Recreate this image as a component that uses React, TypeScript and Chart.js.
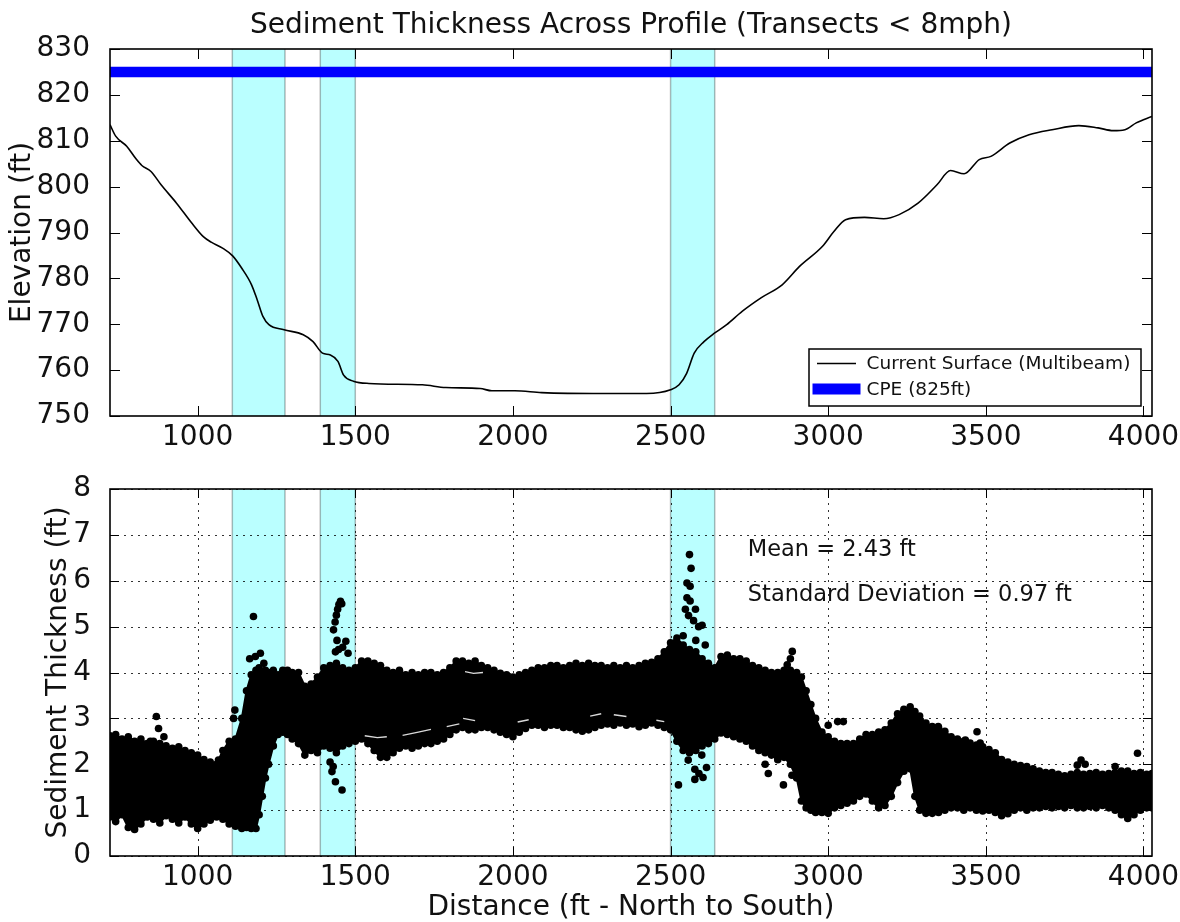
import React, { useEffect, useRef } from 'react';
import { Chart, registerables } from 'chart.js';

Chart.register(...registerables);

const FONT = "'DejaVu Sans', 'Liberation Sans', sans-serif";

// ---------- axes ----------
const X_MIN = 722;
const X_MAX = 4027;
const xTicks = [1000, 1500, 2000, 2500, 3000, 3500, 4000];
const elevTicks = [750, 760, 770, 780, 790, 800, 810, 820, 830];
const thickTicks = [0, 1, 2, 3, 4, 5, 6, 7, 8];

// ---------- shaded spans (ft) ----------
const bandStart = [1110, 1389, 2500];
const bandEnd = [1277, 1500, 2640];

// ---------- top panel: surface profile ----------
const surfaceDist = [722, 740, 775, 805, 823, 852, 884, 933, 982, 1018, 1043, 1079, 1111, 1140, 1171, 1189, 1207, 1226, 1274, 1335, 1366, 1396, 1421, 1445, 1463, 1494, 1543, 1713, 1787, 1896, 1933, 2006, 2091, 2284, 2424, 2500, 2527, 2551, 2575, 2606, 2638, 2678, 2727, 2788, 2854, 2909, 2982, 3018, 3055, 3115, 3176, 3225, 3285, 3345, 3388, 3431, 3479, 3516, 3576, 3637, 3710, 3795, 3856, 3904, 3941, 3977, 4027];
const surfaceElev = [813.5, 811.0, 808.8, 806.0, 804.6, 803.3, 800.4, 796.4, 792.0, 789.1, 787.9, 786.6, 784.9, 782.2, 778.6, 775.3, 771.7, 769.9, 768.8, 767.7, 766.2, 763.7, 763.3, 761.9, 758.9, 757.6, 757.1, 756.8, 756.2, 756.0, 755.5, 755.5, 755.1, 754.9, 754.9, 755.7, 756.8, 759.3, 763.7, 766.2, 768.0, 769.9, 772.8, 775.8, 778.6, 782.6, 787.0, 790.2, 792.8, 793.3, 793.0, 793.9, 796.4, 800.4, 803.5, 802.8, 805.9, 806.6, 809.5, 811.3, 812.4, 813.3, 812.8, 812.2, 812.4, 813.9, 815.3];
const cpeElevation = 825;
const surfaceLabel = 'Current Surface (Multibeam)';
const cpeLabel = 'CPE (825ft)';

// ---------- bottom panel: sediment thickness cloud ----------
const cloudDist = [722, 740, 760, 780, 800, 820, 840, 860, 880, 900, 920, 940, 960, 980, 1000, 1020, 1040, 1060, 1080, 1100, 1120, 1140, 1155, 1170, 1185, 1195, 1205, 1215, 1225, 1240, 1255, 1270, 1285, 1300, 1320, 1340, 1360, 1380, 1400, 1420, 1440, 1460, 1480, 1500, 1520, 1540, 1560, 1580, 1600, 1620, 1640, 1660, 1680, 1700, 1720, 1740, 1760, 1780, 1800, 1820, 1840, 1860, 1880, 1900, 1920, 1940, 1960, 1980, 2000, 2020, 2040, 2060, 2080, 2100, 2120, 2140, 2160, 2180, 2200, 2220, 2240, 2260, 2280, 2300, 2320, 2340, 2360, 2380, 2400, 2420, 2440, 2460, 2480, 2500, 2520, 2540, 2560, 2580, 2600, 2620, 2640, 2660, 2680, 2700, 2720, 2740, 2760, 2780, 2800, 2820, 2840, 2860, 2880, 2900, 2915, 2930, 2945, 2960, 2980, 3000, 3020, 3040, 3060, 3080, 3100, 3120, 3140, 3160, 3180, 3200, 3220, 3240, 3260, 3275, 3290, 3310, 3330, 3350, 3370, 3390, 3410, 3430, 3450, 3470, 3490, 3510, 3530, 3550, 3570, 3590, 3610, 3630, 3650, 3670, 3690, 3710, 3730, 3750, 3770, 3790, 3810, 3830, 3850, 3870, 3890, 3910, 3930, 3950, 3970, 3990, 4010, 4027];
const cloudLow = [0.85, 0.75, 0.9, 0.62, 0.58, 0.7, 0.85, 0.8, 0.72, 0.88, 0.8, 0.72, 0.85, 0.7, 0.6, 0.7, 0.78, 0.85, 0.8, 0.7, 0.65, 0.6, 0.62, 0.6, 0.6, 0.9, 1.3, 1.7, 2.0, 2.4, 2.65, 2.7, 2.65, 2.55, 2.45, 2.2, 2.3, 2.25, 2.4, 2.35, 2.25, 2.4, 2.45, 2.5, 2.55, 2.45, 2.3, 2.15, 2.15, 2.25, 2.35, 2.4, 2.35, 2.4, 2.45, 2.45, 2.5, 2.55, 2.65, 2.75, 2.8, 2.75, 2.75, 2.8, 2.8, 2.75, 2.7, 2.65, 2.6, 2.7, 2.78, 2.85, 2.85, 2.8, 2.85, 2.85, 2.8, 2.8, 2.75, 2.72, 2.75, 2.8, 2.85, 2.88, 2.85, 2.9, 2.85, 2.88, 2.82, 2.85, 2.9, 2.85, 2.8, 2.75, 2.5, 2.3, 2.25, 2.3, 2.4, 2.45, 2.55, 2.68, 2.65, 2.6, 2.55, 2.5, 2.4, 2.3, 2.25, 2.2, 2.15, 2.15, 2.0, 1.7, 1.2, 1.05, 1.0, 0.95, 0.95, 0.93, 1.05, 1.1, 1.15, 1.2, 1.3, 1.35, 1.2, 1.05, 1.1, 1.3, 1.6, 1.85, 1.9, 1.3, 1.0, 0.93, 0.93, 0.95, 1.0, 1.05, 1.05, 1.0, 1.05, 1.0, 0.98, 1.0, 0.95, 0.88, 0.92, 1.0, 1.05, 1.0, 1.05, 1.05, 1.08, 1.05, 1.08, 1.05, 1.1, 1.05, 1.05, 1.08, 1.05, 1.1, 1.05, 1.0, 0.9, 0.82, 0.9, 1.0, 1.05, 1.05];
const cloudHigh = [2.62, 2.65, 2.55, 2.6, 2.5, 2.55, 2.45, 2.5, 2.45, 2.4, 2.35, 2.38, 2.3, 2.25, 2.2, 2.1, 2.05, 2.0, 2.3, 2.5, 2.55, 3.0, 3.6, 3.95, 4.05, 4.1, 4.0, 4.05, 4.0, 4.05, 3.95, 4.05, 4.05, 4.0, 4.0, 3.7, 3.75, 3.9, 4.1, 4.15, 4.2, 4.1, 4.05, 4.1, 4.25, 4.25, 4.2, 4.15, 4.05, 4.0, 4.05, 3.95, 4.0, 3.95, 4.0, 4.0, 3.95, 4.0, 4.1, 4.25, 4.25, 4.2, 4.25, 4.15, 4.1, 4.05, 3.98, 3.95, 3.9, 3.95, 4.0, 4.05, 4.1, 4.1, 4.15, 4.15, 4.1, 4.15, 4.2, 4.15, 4.2, 4.15, 4.15, 4.1, 4.15, 4.1, 4.15, 4.1, 4.15, 4.2, 4.22, 4.3, 4.45, 4.65, 4.75, 4.6, 4.5, 4.45, 4.3, 4.2, 4.1, 4.35, 4.38, 4.3, 4.3, 4.25, 4.15, 4.1, 4.05, 4.0, 4.0, 4.05, 4.05, 4.0, 3.9, 3.6, 3.3, 3.0, 2.7, 2.6, 2.5, 2.45, 2.45, 2.45, 2.55, 2.65, 2.65, 2.7, 2.75, 2.9, 3.1, 3.2, 3.25, 3.15, 3.05, 2.9, 2.82, 2.8, 2.72, 2.6, 2.55, 2.5, 2.46, 2.42, 2.38, 2.32, 2.25, 2.1, 2.05, 2.0, 1.97, 1.95, 1.9, 1.85, 1.82, 1.82, 1.78, 1.75, 1.78, 1.82, 1.78, 1.8, 1.82, 1.78, 1.8, 1.82, 1.85, 1.85, 1.8, 1.82, 1.78, 1.8];
const strayDist = [850, 869, 876, 893, 1066, 1114, 1118, 1165, 1177, 1183, 1199, 1210, 1420, 1426, 1430, 1437, 1458, 1431, 1436, 1440, 1444, 1448, 1453, 1457, 1442, 1447, 1460, 1470, 1477, 1437, 2525, 2540, 2547, 2552, 2552, 2557, 2560, 2562, 2562, 2565, 2573, 2579, 2580, 2589, 2600, 2610, 2556, 2565, 2577, 2577, 2590, 2599, 2603, 2614, 2800, 2810, 2840, 2858, 2885, 2870, 2880, 2886, 3000, 3030, 3048, 3349, 3435, 3472, 3482, 3790, 3802, 3815, 3910, 3981];
const strayThick = [2.5, 3.04, 2.78, 2.6, 2.09, 3.0, 3.18, 4.3, 5.22, 4.35, 4.42, 4.2, 2.05, 1.84, 1.95, 1.62, 1.44, 4.93, 5.1, 5.25, 5.38, 5.48, 5.55, 5.5, 4.7, 4.5, 4.55, 4.68, 4.42, 4.45, 1.55, 4.8, 5.38, 5.95, 5.63, 5.24, 6.57, 5.88, 5.56, 6.27, 5.13, 5.38, 4.7, 5.0, 5.03, 4.6, 2.09, 2.3, 1.89, 1.67, 1.8, 2.2, 1.71, 1.93, 2.0, 1.8, 2.1, 1.55, 1.76, 4.17, 4.3, 4.46, 2.85, 2.93, 2.93, 2.82, 2.53, 2.71, 2.46, 1.98, 2.09, 2.0, 1.95, 2.24];
// short empty streaks seen inside the cloud (null = break between streaks)
const streakDist = [1530, 1570, 1600, 1601, 1650, 1700, 1740, 1741, 1790, 1830, 1831, 1842, 1880, 1881, 2015, 2050, 2051, 2245, 2280, 2281, 2320, 2360, 2361, 2455, 2480, 2481, 1848, 1875, 1905];
const streakThick = [2.62, 2.58, 2.6, null, 2.63, 2.7, 2.76, null, 2.82, 2.88, null, 3.0, 2.95, null, 2.92, 2.97, null, 3.05, 3.1, null, 3.08, 3.04, null, 2.96, 2.93, null, 4.02, 3.98, 4.0];
const meanLabel = 'Mean = 2.43 ft';
const sdLabel = 'Standard Deviation = 0.97 ft';
const noteDist = 2745;
const meanNoteY = 6.55;
const sdNoteY = 5.55;

const titleText = 'Sediment Thickness Across Profile (Transects < 8mph)';
const topYTitle = 'Elevation (ft)';
const botYTitle = 'Sediment Thickness (ft)';
const botXTitle = 'Distance (ft - North to South)';

Chart.defaults.font.family = FONT;

function pts(xs: number[], ys: (number | null)[]) {
  return xs.map((x, i) => ({ x, y: ys[i] }));
}

function drawBands(chart: any) {
  const { ctx, chartArea: a, scales } = chart;
  const xs = scales.x;
  ctx.save();
  for (let i = 0; i < bandStart.length; i++) {
    const x0 = xs.getPixelForValue(bandStart[i]);
    const x1 = xs.getPixelForValue(bandEnd[i]);
    ctx.fillStyle = 'rgba(0,255,255,0.27)';
    ctx.fillRect(x0, a.top, x1 - x0, a.bottom - a.top);
    ctx.strokeStyle = 'rgba(0,0,0,0.28)';
    ctx.lineWidth = 1.5;
    ctx.beginPath();
    ctx.moveTo(x0, a.top);
    ctx.lineTo(x0, a.bottom);
    ctx.moveTo(x1, a.top);
    ctx.lineTo(x1, a.bottom);
    ctx.stroke();
  }
  ctx.restore();
}

function drawFrame(chart: any, yVals: number[], len: number) {
  const { ctx, chartArea: a, scales } = chart;
  const xs = scales.x;
  const ys = scales.y;
  ctx.save();
  ctx.setLineDash([]);
  ctx.strokeStyle = '#000';
  ctx.lineWidth = 1;
  ctx.beginPath();
  for (const v of xTicks) {
    const p = Math.round(xs.getPixelForValue(v)) + 0.5;
    ctx.moveTo(p, a.bottom);
    ctx.lineTo(p, a.bottom - len);
    ctx.moveTo(p, a.top);
    ctx.lineTo(p, a.top + len);
  }
  for (const v of yVals) {
    const p = Math.round(ys.getPixelForValue(v)) + 0.5;
    ctx.moveTo(a.left, p);
    ctx.lineTo(a.left + len, p);
    ctx.moveTo(a.right, p);
    ctx.lineTo(a.right - len, p);
  }
  ctx.stroke();
  ctx.lineWidth = 1.6;
  ctx.strokeRect(a.left, a.top, a.right - a.left, a.bottom - a.top);
  ctx.restore();
}

function rotatedText(ctx: any, text: string, x: number, y: number, size: number) {
  ctx.save();
  ctx.translate(x, y);
  ctx.rotate(-Math.PI / 2);
  ctx.font = `${size}px ${FONT}`;
  ctx.fillStyle = '#111';
  ctx.textAlign = 'center';
  ctx.textBaseline = 'middle';
  ctx.fillText(text, 0, 0);
  ctx.restore();
}

const topPlugin = {
  id: 'topDeco',
  beforeDatasetsDraw(chart: any) {
    drawBands(chart);
  },
  afterDatasetsDraw(chart: any) {
    const { ctx, chartArea: a } = chart;
    drawFrame(chart, elevTicks, 10);
    ctx.save();
    ctx.font = `28px ${FONT}`;
    ctx.fillStyle = '#111';
    ctx.textAlign = 'center';
    ctx.textBaseline = 'alphabetic';
    ctx.fillText(titleText, (a.left + a.right) / 2, 33);
    // legend
    const lx = a.right - 343;
    const ly = a.bottom - 67;
    const lw = 332;
    const lh = 57;
    ctx.fillStyle = '#fff';
    ctx.fillRect(lx, ly, lw, lh);
    ctx.strokeStyle = '#000';
    ctx.lineWidth = 1.5;
    ctx.strokeRect(lx, ly, lw, lh);
    ctx.beginPath();
    ctx.lineWidth = 1.6;
    ctx.moveTo(lx + 8, ly + 14.5);
    ctx.lineTo(lx + 47, ly + 14.5);
    ctx.stroke();
    ctx.fillStyle = '#0000ff';
    ctx.fillRect(lx + 3.5, ly + 34.5, 48, 11);
    ctx.fillStyle = '#111';
    ctx.font = `18.5px ${FONT}`;
    ctx.textAlign = 'left';
    ctx.fillText(surfaceLabel, lx + 57.5, ly + 19.5);
    ctx.fillText(cpeLabel, lx + 57.5, ly + 45.5);
    ctx.restore();
    rotatedText(ctx, topYTitle, 23, (a.top + a.bottom) / 2, 28);
  },
};

const botPlugin = {
  id: 'botDeco',
  beforeDatasetsDraw(chart: any) {
    drawBands(chart);
    const { ctx, chartArea: a, scales } = chart;
    ctx.save();
    ctx.setLineDash([2, 5]);
    ctx.strokeStyle = 'rgba(0,0,0,0.8)';
    ctx.lineWidth = 1;
    ctx.beginPath();
    for (const v of xTicks) {
      const p = Math.round(scales.x.getPixelForValue(v)) + 0.5;
      ctx.moveTo(p, a.top);
      ctx.lineTo(p, a.bottom);
    }
    for (const v of thickTicks) {
      const p = Math.round(scales.y.getPixelForValue(v)) + 0.5;
      ctx.moveTo(a.left, p);
      ctx.lineTo(a.right, p);
    }
    ctx.stroke();
    ctx.restore();
  },
  afterDatasetsDraw(chart: any) {
    const { ctx, chartArea: a, scales } = chart;
    drawFrame(chart, thickTicks, 9);
    ctx.save();
    ctx.font = `22.5px ${FONT}`;
    ctx.fillStyle = '#111';
    ctx.textAlign = 'left';
    ctx.textBaseline = 'alphabetic';
    const tx = scales.x.getPixelForValue(noteDist);
    ctx.fillText(meanLabel, tx, scales.y.getPixelForValue(meanNoteY));
    ctx.fillText(sdLabel, tx, scales.y.getPixelForValue(sdNoteY));
    ctx.font = `28px ${FONT}`;
    ctx.textAlign = 'center';
    ctx.fillText(botXTitle, (a.left + a.right) / 2, 455);
    ctx.restore();
    rotatedText(ctx, botYTitle, 58.5, (a.top + a.bottom) / 2, 28);
  },
};

const tickFont = { family: FONT, size: 28, lineHeight: 1.2 };

function xScale(height: number) {
  return {
    type: 'linear',
    min: X_MIN,
    max: X_MAX,
    grid: { display: false },
    border: { display: false },
    ticks: {
      font: tickFont,
      color: '#111',
      padding: -3,
      maxRotation: 0,
      autoSkip: false,
      callback: (v: any) => String(v),
    },
    afterBuildTicks: (s: any) => {
      s.ticks = xTicks.map((v) => ({ value: v }));
    },
    afterFit: (s: any) => {
      s.height = height;
    },
  };
}

function yScale(min: number, max: number, vals: number[], pad: number) {
  return {
    type: 'linear',
    min,
    max,
    grid: { display: false },
    border: { display: false },
    ticks: {
      font: tickFont,
      color: '#111',
      padding: pad,
      autoSkip: false,
      callback: (v: any) => String(v),
    },
    afterBuildTicks: (s: any) => {
      s.ticks = vals.map((v) => ({ value: v }));
    },
    afterFit: (s: any) => {
      s.width = 110;
    },
  };
}

export default function App() {
  const topRef = useRef<HTMLCanvasElement>(null);
  const botRef = useRef<HTMLCanvasElement>(null);

  useEffect(() => {
    const top = new Chart(topRef.current as HTMLCanvasElement, {
      type: 'line',
      data: {
        datasets: [
          {
            label: surfaceLabel,
            data: pts(surfaceDist, surfaceElev),
            borderColor: '#000',
            borderWidth: 1.6,
            pointRadius: 0,
            cubicInterpolationMode: 'monotone',
            fill: false,
            clip: 0,
          },
          {
            label: cpeLabel,
            data: [
              { x: X_MIN, y: cpeElevation },
              { x: X_MAX, y: cpeElevation },
            ],
            borderColor: '#0000ff',
            borderWidth: 10.5,
            borderCapStyle: 'butt',
            pointRadius: 0,
            fill: false,
            clip: 0,
          },
        ],
      },
      options: {
        responsive: false,
        animation: false,
        devicePixelRatio: 1,
        events: [],
        layout: { padding: { top: 49, right: 28, left: 0, bottom: 0 } },
        plugins: { legend: { display: false }, title: { display: false }, tooltip: { enabled: false } },
        scales: {
          x: xScale(44),
          y: yScale(750, 830, elevTicks, 12),
        },
      } as any,
      plugins: [topPlugin],
    } as any);

    const pointStyle = {
      borderColor: '#000',
      pointBackgroundColor: '#000',
      pointBorderColor: '#000',
      pointBorderWidth: 0,
      pointRadius: 3.8,
      clip: 0,
    };

    const bot = new Chart(botRef.current as HTMLCanvasElement, {
      type: 'line',
      data: {
        datasets: [
          {
            label: 'stray',
            data: pts(strayDist, strayThick),
            showLine: false,
            fill: false,
            ...pointStyle,
          },
          {
            label: 'streaks',
            data: pts(streakDist, streakThick),
            borderColor: 'rgba(255,255,255,0.85)',
            borderWidth: 1.4,
            pointRadius: 0,
            spanGaps: false,
            fill: false,
            tension: 0,
            clip: 0,
          },
          {
            label: 'lower',
            data: pts(cloudDist, cloudLow),
            borderWidth: 2,
            fill: false,
            tension: 0,
            ...pointStyle,
          },
          {
            label: 'upper',
            data: pts(cloudDist, cloudHigh),
            borderWidth: 2,
            fill: '-1',
            backgroundColor: '#000',
            tension: 0,
            ...pointStyle,
          },
        ],
      },
      options: {
        responsive: false,
        animation: false,
        devicePixelRatio: 1,
        events: [],
        layout: { padding: { top: 29, right: 28, left: 0, bottom: 0 } },
        plugins: { legend: { display: false }, title: { display: false }, tooltip: { enabled: false } },
        scales: {
          x: xScale(66),
          y: yScale(0, 8, thickTicks, 11),
        },
      } as any,
      plugins: [botPlugin],
    } as any);

    return () => {
      top.destroy();
      bot.destroy();
    };
  }, []);

  return (
    <div style={{ position: 'absolute', left: 0, top: 0, width: 1180, height: 922, background: '#fff' }}>
      <canvas
        ref={topRef}
        width={1180}
        height={460}
        style={{ position: 'absolute', left: 0, top: 0, width: 1180, height: 460, display: 'block' }}
      />
      <canvas
        ref={botRef}
        width={1180}
        height={462}
        style={{ position: 'absolute', left: 0, top: 460, width: 1180, height: 462, display: 'block' }}
      />
    </div>
  );
}
